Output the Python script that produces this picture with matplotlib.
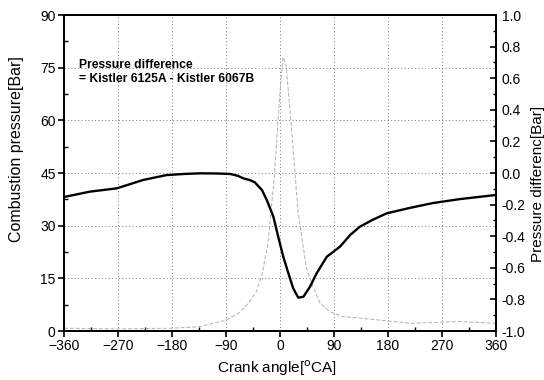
import matplotlib

matplotlib.use("Agg")
import matplotlib.pyplot as plt
import numpy as np
from matplotlib.ticker import MultipleLocator

plt.rcParams["font.family"] = ["Liberation Sans", "DejaVu Sans"]

# pressure difference (right axis)
pd_angle = [-360, -317, -272, -228, -189, -160, -133, -105, -83, -70, -61, -50, -42,
            -30, -22, -11, -3, 5.5, 14, 22, 30.5, 39, 50, 61, 78, 100, 117, 133,
            155, 178, 215, 255, 300, 360]
pd_value = [-0.152, -0.118, -0.097, -0.044, -0.013, -0.006, -0.002, -0.003, -0.006,
            -0.018, -0.034, -0.045, -0.059, -0.108, -0.171, -0.277, -0.403, -0.53,
            -0.635, -0.73, -0.789, -0.783, -0.72, -0.635, -0.53, -0.466, -0.392,
            -0.34, -0.295, -0.255, -0.222, -0.19, -0.165, -0.139]

# combustion pressure (left axis), faint in the scan
cp_angle = [-360, -270, -180, -135, -90, -70, -55, -40, -30, -20, -10, 0, 5, 10,
            20, 30, 44, 55, 67, 83, 105, 133, 217, 300, 360]
cp_value = [0.8, 0.6, 0.8, 1.2, 3.1, 5.0, 7.4, 11, 16, 25, 43, 68, 78, 76,
            56, 34, 18, 12.6, 7.9, 5.5, 4.1, 3.7, 2.2, 2.7, 2.2]

x_ticks = [-360, -270, -180, -90, 0, 90, 180, 270, 360]
left_ticks = [0, 15, 30, 45, 60, 75, 90]
right_ticks = [-1.0, -0.8, -0.6, -0.4, -0.2, 0.0, 0.2, 0.4, 0.6, 0.8, 1.0]

fig = plt.figure(figsize=(5.44, 3.8), dpi=100)
ax = fig.add_axes([0.1176, 0.1289, 0.7942, 0.8316])
ax2 = ax.twinx()

ax.plot(cp_angle, cp_value, color="#b0b0b0", lw=0.7, dashes=(4, 2))
ax2.plot(pd_angle, pd_value, color="black", lw=1.7)

ax.set_xlim(-360, 360)
ax.set_ylim(0, 90)
ax2.set_ylim(-1.0, 1.0)

ax.set_xticks(x_ticks)
ax.set_yticks(left_ticks)
ax2.set_yticks(right_ticks)
ax2.set_yticklabels([f"{v:.1f}" for v in right_ticks])
ax.xaxis.set_minor_locator(MultipleLocator(45))
ax.yaxis.set_minor_locator(MultipleLocator(7.5))
ax2.yaxis.set_minor_locator(MultipleLocator(0.1))

ax.grid(True, which="major", color="#777777", lw=0.7, linestyle=(0, (1, 2.5)))

ax.tick_params(axis="both", which="major", direction="out", length=4, width=1.2,
               labelsize=10, pad=2)
ax.tick_params(axis="both", which="minor", direction="in", length=3, width=1.0)
ax.tick_params(axis="x", top=False, which="both")
ax2.tick_params(axis="y", which="major", direction="in", length=4, width=1.2,
                labelsize=10, pad=4)
ax2.tick_params(axis="y", which="minor", direction="in", length=2.5, width=1.0)

for a in (ax, ax2):
    for s in a.spines.values():
        s.set_linewidth(1.4)

ax.set_xlabel("Crank angle[$^{\\rm o}$CA]", fontsize=11, va="center")
ax.xaxis.set_label_coords(0.493, -0.117)
ax.set_ylabel("Combustion pressure[Bar]", fontsize=11.5, va="center")
ax.yaxis.set_label_coords(-0.109, 0.576)
ax2.set_ylabel("Pressure differenc[Bar]", fontsize=11, va="center")
ax2.yaxis.set_label_coords(1.097, 0.465)

ax.text(-335, 70, "Pressure difference\n= Kistler 6125A - Kistler 6067B",
        fontsize=8.7, fontweight="bold", va="bottom", ha="left", linespacing=1.25)

fig.savefig("out.png", dpi=100)
